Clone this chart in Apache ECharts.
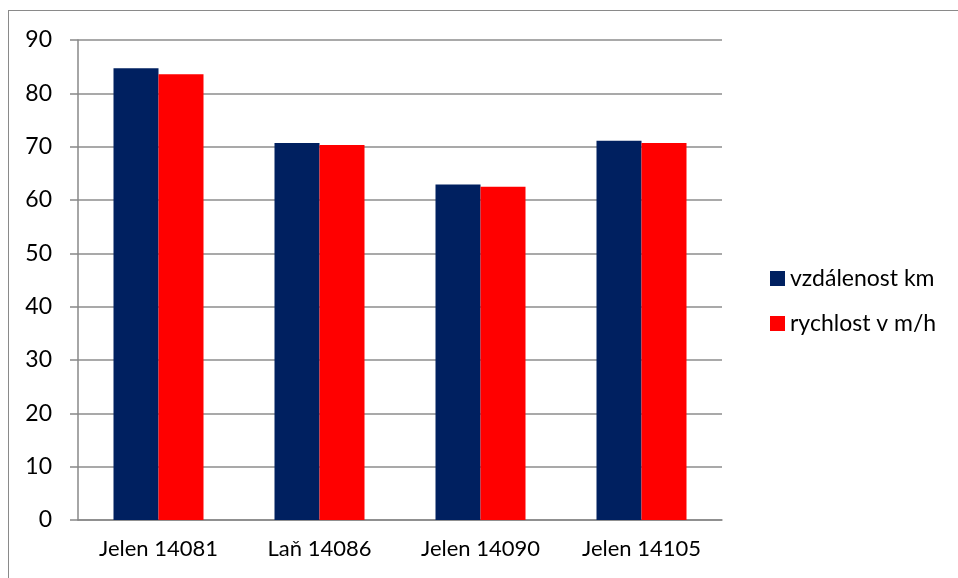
<!DOCTYPE html>
<html>
<head>
<meta charset="utf-8">
<script src="https://cdn.jsdelivr.net/npm/echarts@6/dist/echarts.min.js"></script>
<style>
  html, body { margin: 0; padding: 0; background: #fff; }
  #chart { width: 958px; height: 578px; }
  #frame { position: absolute; left: 8px; top: 10px; right: -2px; bottom: -2px; border: 1px solid #8a8a8a; pointer-events: none; }
</style>
</head>
<body>
<div id="chart"></div>
<div id="frame"></div>
<script>
// kategorie a hodnoty
const categories = ['Jelen 14081', 'Laň 14086', 'Jelen 14090', 'Jelen 14105'];
const vzdalenost = [84.7, 70.7, 62.9, 71.1];
const rychlost = [83.6, 70.3, 62.5, 70.7];
const seriesNames = ['vzdálenost km', 'rychlost v m/h'];

const font = 'Lato, "Open Sans", sans-serif';

let option = {
  animation: false,
  textStyle: { fontFamily: font },
  grid: { left: 78, right: 236, top: 40, bottom: 58 },
  legend: {
    orient: 'vertical',
    left: 765,
    top: 262,
    itemWidth: 15,
    itemHeight: 15,
    itemGap: 22,
    icon: 'rect',
    textStyle: { fontSize: 23, color: '#000', fontFamily: font },
    data: seriesNames
  },
  xAxis: {
    type: 'category',
    data: categories,
    axisLine: { lineStyle: { color: '#888', width: 1.5 } },
    axisTick: { length: 8, lineStyle: { color: '#888', width: 1.5 } },
    axisLabel: { fontSize: 22, color: '#000', margin: 18, interval: 0, hideOverlap: false }
  },
  yAxis: {
    type: 'value',
    min: 0,
    max: 90,
    interval: 10,
    axisLine: { show: true, lineStyle: { color: '#888', width: 1.5 } },
    axisTick: { show: true, length: 8, lineStyle: { color: '#888', width: 1.5 } },
    axisLabel: { fontSize: 23, color: '#000', margin: 26 },
    splitLine: { lineStyle: { color: '#8c8c8c', width: 1.5 } }
  },
  series: [
    {
      name: seriesNames[0],
      type: 'bar',
      data: vzdalenost,
      barWidth: 45,
      barGap: '0%',
      itemStyle: { color: '#002060' }
    },
    {
      name: seriesNames[1],
      type: 'bar',
      data: rychlost,
      barWidth: 45,
      barGap: '0%',
      itemStyle: { color: '#ff0000' }
    }
  ]
};

echarts.init(document.getElementById('chart')).setOption(option);
</script>
</body>
</html>
